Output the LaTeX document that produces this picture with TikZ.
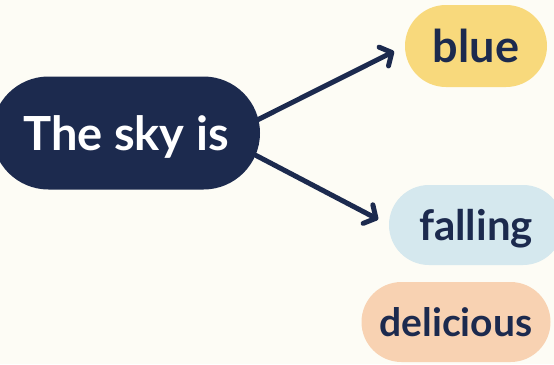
\documentclass[tikz,border=0pt]{standalone}
\usepackage{fontspec}
\setmainfont{Lato}
\usetikzlibrary{arrows.meta,shapes.misc}
\definecolor{navy}{HTML}{1C2A4E}
\definecolor{paper}{HTML}{FDFCF5}
\definecolor{sun}{HTML}{F8D97C}
\definecolor{ice}{HTML}{D5E8EE}
\definecolor{peach}{HTML}{F8D2B2}
\begin{document}
\begin{tikzpicture}[
    x=1pt, y=-1pt,
    pill/.style={rounded rectangle, fill=#1, inner sep=0pt, text depth=0pt, text=navy, font=\bfseries},
    arrow/.style={-{Straight Barb[length=9pt,width=21pt,round]}, line width=5pt, draw=navy, line cap=round, shorten >=12pt}
]
    \useasboundingbox (0,0) rectangle (554,364);
    \fill[paper] (0,0) rectangle (554,364);

    \node[pill=navy, text=white, minimum width=268pt, minimum height=113pt,
          font=\bfseries\fontsize{47}{56}\selectfont] (sky) at (126,133) {The sky is};
    \node[pill=sun, minimum width=142pt, minimum height=82pt,
          font=\bfseries\fontsize{45}{54}\selectfont] (blue) at (476,46) {blue};
    \node[pill=ice, minimum width=174pt, minimum height=80pt,
          font=\bfseries\fontsize{42}{50}\selectfont] (fall) at (476,225) {falling};
    \node[pill=peach, minimum width=189pt, minimum height=80pt,
          font=\bfseries\fontsize{39}{47}\selectfont] (tasty) at (456,322) {delicious};

    % Arrows out of the subject
    \draw[arrow] ([xshift=-3pt,yshift=13pt]sky.east) -- (blue.west);
    \draw[arrow] ([xshift=-5pt,yshift=-22pt]sky.east) -- (fall.west);
\end{tikzpicture}
\end{document}
